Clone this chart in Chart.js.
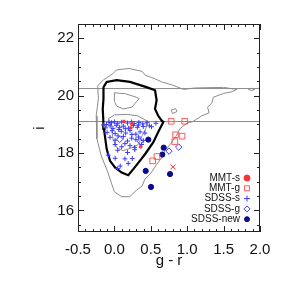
<!DOCTYPE html>
<html>
<head>
<meta charset="utf-8">
<script src="https://cdn.jsdelivr.net/npm/chart.js@4/dist/chart.umd.min.js"></script>
<style>
  html, body { margin: 0; padding: 0; background: #fff; }
  #wrap { width: 284px; height: 284px; }
</style>
</head>
<body>
<div id="wrap"><canvas id="cmd"></canvas></div>
<script>
// ===== datos =====
const xTickVals = [-0.5, 0.0, 0.5, 1.0, 1.5, 2.0];
const yTickVals = [16, 18, 20, 22];

// lineas horizontales (i)
const hLines = [20.25, 19.1];

// contornos (g-r, i)
const contornoExterno = [
  [-0.23,20.35],[-0.22,19.9],[-0.25,19.3],[-0.24,18.5],[-0.18,17.9],[-0.1,17.4],[-0.04,16.95],
  [0.0,16.65],[0.1,16.48],[0.21,16.48],[0.3,16.7],[0.38,16.85],[0.42,17.1],[0.5,17.3],[0.58,17.6],
  [0.65,17.85],[0.7,18.1],[0.78,18.35],[0.85,18.6],[0.9,18.85],[1.0,19.05],[1.08,19.1],[1.2,19.3],
  [1.3,19.4],[1.28,19.6],[1.34,19.75],[1.36,19.95],[1.5,20.08],[1.62,20.14],[1.68,20.22],[1.5,20.29],
  [1.1,20.27],[0.95,20.22],[0.8,20.37],[0.65,20.48],[0.55,20.6],[0.42,20.72],[0.38,20.85],[0.2,20.95],
  [0.03,20.9],[-0.02,20.77],[-0.15,20.55],[-0.23,20.35]
];
const contornoMedio = [
  [-0.15,20.3],[-0.106,20.48],[0.03,20.54],[0.214,20.48],[0.44,20.3],[0.558,20.19],[0.58,19.84],
  [0.558,19.54],[0.6,19.31],[0.65,19.13],[0.672,19.08],[0.6,18.73],[0.535,18.38],[0.42,17.96],
  [0.35,17.73],[0.26,17.44],[0.19,17.23],[0.1,17.32],[0.008,17.5],[-0.06,17.73],[-0.106,18.14],
  [-0.143,18.84],[-0.152,19.13],[-0.16,19.54],[-0.15,19.9],[-0.15,20.3]
];
const contornoInterno1 = [
  [0.0,20.1],[0.15,20.07],[0.3,19.95],[0.34,19.9],[0.3,19.78],[0.24,19.6],[0.12,19.54],
  [0.03,19.64],[0.0,19.8],[0.0,20.1]
];
const contornoInterno2 = [
  [-0.08,19.2],[0.0,19.33],[0.17,19.35],[0.32,19.3],[0.44,19.13],[0.44,18.9],[0.38,18.6],
  [0.33,18.3],[0.25,18.2],[0.12,18.08],[0.03,18.2],[-0.02,18.5],[-0.04,18.9],[-0.08,19.2]
];
const islaContorno = [
  [0.78,19.5],[0.84,19.55],[0.86,19.45],[0.8,19.38],[0.78,19.5]
];
const islaContorno2 = [
  [1.84,20.22],[1.88,20.26],[1.93,20.22],[1.88,20.18],[1.84,20.22]
];

// puntos
const mmtS = [[0.132,19.10],[0.224,18.88],[0.24,19.02],[0.36,18.22]];
const mmtG = [[0.78,19.11],[0.966,19.11],[0.84,18.64],[0.93,18.59],[0.83,18.40],[0.585,17.88],[0.526,17.73]];
const mmtX = [[0.805,17.52]];
const sdssS = [
  [-0.075,19.08],[-0.04,19.06],[0.0,19.09],[0.045,19.04],[0.1,19.08],[0.18,19.05],[0.237,19.09],
  [0.273,19.03],[0.337,19.07],[0.39,19.02],[0.45,19.06],[0.57,19.04],
  [-0.12,18.88],[-0.06,18.95],[-0.02,18.86],[0.026,18.97],[0.072,18.9],[0.123,18.94],[0.196,18.87],
  [0.26,18.96],[0.315,18.9],[0.397,18.93],
  [-0.1,18.72],[-0.03,18.78],[0.01,18.68],[0.095,18.76],[0.155,18.7],[0.214,18.79],[0.295,18.66],
  [0.352,18.74],[0.42,18.7],
  [-0.06,18.55],[0.01,18.45],[0.123,18.58],[0.18,18.42],[0.237,18.52],[0.295,18.47],[0.333,18.56],
  [0.397,18.44],
  [0.01,18.3],[0.1,18.22],[0.145,18.33],[0.214,18.26],[0.28,18.2],[0.375,18.3],
  [0.045,18.1],[0.18,18.02],[0.28,18.12],
  [0.01,17.82],[0.145,17.8],[0.246,17.81],[-0.084,17.93],
  [0.045,17.46],[0.19,17.64],[0.08,17.55],
  [-0.15,18.98],[-0.11,19.0],[0.06,18.82],[0.15,18.85],[0.33,18.98],[0.48,18.95],[0.05,18.6],
  [0.24,18.65],[0.51,18.92]
];
const sdssG = [[0.073,18.48],[0.356,18.41],[0.75,18.07],[0.883,18.21]];
const sdssNew = [[0.466,18.47],[0.677,18.19],[0.658,17.95],[0.43,17.38],[0.764,17.27],[0.503,16.82]];

const AZUL = "#3a3aff";
const MARINO = "#0a0a8c";
const ROJO = "#ff3030";
const ROJO_CLARO = "#ff5a5a";
const GRIS = "#8c8c8c";

function pts(arr) { return arr.map(p => ({ x: p[0], y: p[1] })); }

function linea(arr, color, ancho) {
  return {
    type: "line", data: pts(arr), borderColor: color, borderWidth: ancho,
    pointRadius: 0, fill: false, tension: 0, order: 10, enLeyenda: false
  };
}

// ======= leyenda y marco =======
const leyendaPlugin = {
  id: "leyenda",
  afterDraw(chart) {
    const ctx = chart.ctx;
    const area = chart.chartArea;
    const sx = chart.scales.x, sy = chart.scales.y;

    // marco
    ctx.save();
    ctx.strokeStyle = "#222";
    ctx.lineWidth = 1;
    ctx.strokeRect(Math.round(area.left) + 0.5, Math.round(area.top) + 0.5,
      Math.round(area.right - area.left) - 1, Math.round(area.bottom - area.top) - 1);

    // ticks hacia adentro en los 4 lados
    ctx.beginPath();
    for (let k = -5; k <= 20; k++) {
      const px = Math.round(sx.getPixelForValue(k / 10)) + 0.5;
      const len = k % 5 === 0 ? 6 : 3;
      ctx.moveTo(px, area.bottom); ctx.lineTo(px, area.bottom - len);
      ctx.moveTo(px, area.top); ctx.lineTo(px, area.top + len);
    }
    for (let k = 31; k <= 45; k++) {
      const v = k / 2;
      const py = Math.round(sy.getPixelForValue(v)) + 0.5;
      const len = v % 2 === 0 ? 6 : 3;
      ctx.moveTo(area.left, py); ctx.lineTo(area.left + len, py);
      ctx.moveTo(area.right, py); ctx.lineTo(area.right - len, py);
    }
    ctx.stroke();

    // leyenda
    const items = chart.data.datasets.filter(d => d.enLeyenda);
    ctx.font = "10px 'Liberation Sans', Arial, sans-serif";
    ctx.textAlign = "right";
    ctx.textBaseline = "middle";
    items.forEach((d, i) => {
      const y = area.bottom - 54 + i * 10.3;
      ctx.fillStyle = "#111";
      ctx.fillText(d.label, area.right - 20, y);
      ctx.strokeStyle = d.borderColor;
      ctx.fillStyle = d.backgroundColor;
      ctx.lineWidth = d.borderWidth || 1;
      Chart.helpers.drawPoint(ctx, {
        pointStyle: d.pointStyle, radius: d.leyendaRadio, rotation: 0, borderWidth: d.borderWidth
      }, area.right - 13, y);
    });
    ctx.restore();
  }
};

const datasets = [
  { label: "MMT-s", data: pts(mmtS), pointStyle: "circle", pointRadius: 1.4,
    backgroundColor: ROJO, borderColor: ROJO, borderWidth: 1, enLeyenda: true, leyendaRadio: 3, order: 1 },
  { label: "MMT-g", data: pts(mmtG), pointStyle: "rect", pointRadius: 4,
    backgroundColor: "rgba(0,0,0,0)", borderColor: ROJO_CLARO, borderWidth: 1, enLeyenda: true, leyendaRadio: 3.5, order: 1 },
  { label: "SDSS-s", data: pts(sdssS), pointStyle: "cross", pointRadius: 2.4,
    backgroundColor: AZUL, borderColor: AZUL, borderWidth: 1, enLeyenda: true, leyendaRadio: 3, order: 2 },
  { label: "SDSS-g", data: pts(sdssG), pointStyle: "rectRot", pointRadius: 3.2,
    backgroundColor: "rgba(0,0,0,0)", borderColor: AZUL, borderWidth: 1, enLeyenda: true, leyendaRadio: 3, order: 1 },
  { label: "SDSS-new", data: pts(sdssNew), pointStyle: "circle", pointRadius: 2.6,
    backgroundColor: MARINO, borderColor: MARINO, borderWidth: 1, enLeyenda: true, leyendaRadio: 2.5, order: 1 },
  { label: "x", data: pts(mmtX), pointStyle: "crossRot", pointRadius: 3.5,
    backgroundColor: ROJO, borderColor: ROJO, borderWidth: 1, enLeyenda: false, order: 1 },
  linea(contornoMedio, "#000", 2.2),
  linea(contornoExterno, GRIS, 1),
  linea(contornoInterno1, GRIS, 1),
  linea(contornoInterno2, GRIS, 1),
  linea(islaContorno, GRIS, 1),
  linea(islaContorno2, GRIS, 1),
  ...hLines.map(v => linea([[-0.5, v], [2.0, v]], "#8a8a8a", 1))
];

const fuente = { family: "'Liberation Sans', Arial, sans-serif", size: 15 };

new Chart(document.getElementById("cmd").getContext("2d"), {
  type: "scatter",
  data: { datasets },
  options: {
    responsive: true,
    maintainAspectRatio: false,
    animation: false,
    layout: { padding: { top: 24, right: 24, left: 0, bottom: 0 } },
    plugins: { legend: { display: false }, tooltip: { enabled: false } },
    scales: {
      x: {
        type: "linear", min: -0.5, max: 2.0,
        grid: { display: false, drawTicks: false },
        border: { display: false },
        afterBuildTicks: s => { s.ticks = xTickVals.map(v => ({ value: v })); },
        afterFit: s => { s.height = 52; },
        ticks: { color: "#111", font: fuente, padding: 9, maxRotation: 0, callback: v => v.toFixed(1) },
        title: { display: true, text: "g - r", color: "#111", font: fuente, padding: { top: 0, bottom: 14 } }
      },
      y: {
        type: "linear", min: 15.25, max: 22.5,
        grid: { display: false, drawTicks: false },
        border: { display: false },
        afterBuildTicks: s => { s.ticks = yTickVals.map(v => ({ value: v })); },
        afterFit: s => { s.width = 78; },
        ticks: { color: "#111", font: fuente, padding: 4, callback: v => String(v) },
        title: { display: true, text: "i", color: "#111", font: fuente, padding: { top: 31, bottom: 0 } }
      }
    }
  },
  plugins: [leyendaPlugin]
});
</script>
</body>
</html>
